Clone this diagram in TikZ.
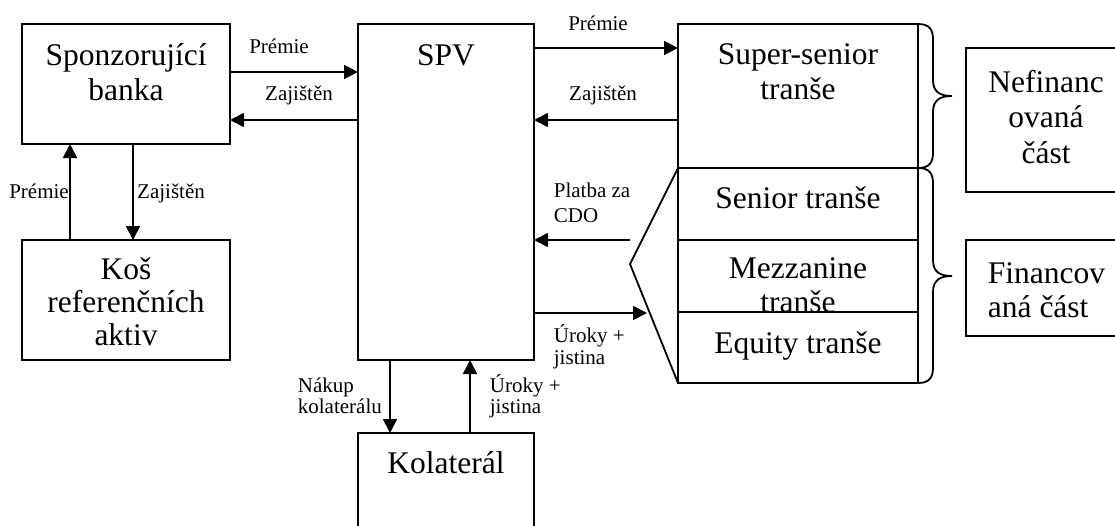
\documentclass[tikz,border=0pt]{standalone}
\usepackage{fontspec}
\setmainfont{Liberation Serif}
\usetikzlibrary{arrows.meta,calc}

% stacked lines whose baseline is the first line's baseline
\newcommand\cstack[1]{\vtop{\lineskiplimit=-50pt\halign{\hfil##\hfil\cr#1\crcr}}}
\newcommand\lstack[1]{\vtop{\lineskiplimit=-50pt\halign{##\hfil\cr#1\crcr}}}

% curly brace on the right of the tranche stack: top y, bottom y, tip y
\newcommand\drawbrace[3]{%
  \draw (918,#1) .. controls (930,#1) and (933,{#1+6}) .. (933,{#1+16})
        -- (933,{#3-16}) .. controls (933,{#3-4}) and (940,#3) .. (952,#3)
        .. controls (940,#3) and (933,{#3+4}) .. (933,{#3+16})
        -- (933,{#2-16}) .. controls (933,{#2-6}) and (930,#2) .. (918,#2);}

\begin{document}
\begin{tikzpicture}[x=1pt,y=-1pt,
  line width=1.8pt,
  box/.style={draw,rectangle,inner sep=0pt,outer sep=0pt},
  big/.style={inner sep=0pt,font=\fontsize{31.5}{35}\selectfont},
  small/.style={inner sep=0pt,font=\fontsize{21}{23}\selectfont},
  arr/.style={-{Triangle[length=14pt,width=14pt]}}]
\useasboundingbox (0,0) rectangle (1115,525);
\clip (0,0) rectangle (1115,525);

% boxes
\node[box,minimum width=208pt,minimum height=120pt] (spon) at (126,84) {};
\node[box,minimum width=208pt,minimum height=120pt] (kos) at (126,300) {};
\node[box,minimum width=176pt,minimum height=336pt] (spv) at (446,192) {};
\node[box,minimum width=176pt,minimum height=127pt] (kol) at (446,496.5) {};
\node[box,minimum width=240pt,minimum height=144pt] (ss) at (798,96) {};
\node[box,minimum width=240pt,minimum height=72pt] (sen) at (798,204) {};
\node[box,minimum width=240pt,minimum height=72pt] (mez) at (798,276) {};
\node[box,minimum width=240pt,minimum height=71pt] (eq) at (798,347.5) {};
\node[box,minimum width=164pt,minimum height=144pt] (nef) at (1048,120) {};
\node[box,minimum width=164pt,minimum height=96pt] (fin) at (1048,288) {};

% box texts
\node[big,anchor=base] (tspon) at (126,65) {\cstack{Sponzorující\cr banka}};
\node[big,anchor=base,font=\fontsize{31.5}{33}\selectfont] (tkos) at (126,279) {\cstack{Koš\cr referenčních\cr aktiv}};
\node[big,anchor=base] (tspv) at (446,65) {SPV};
\node[big,anchor=base] (tkol) at (446,473) {Kolaterál};
\node[big,anchor=base,font=\fontsize{31.5}{35}\selectfont] (tss) at (798,64) {\cstack{Super-senior\cr tranše}};
\node[big,anchor=base] (tsen) at (798,208) {Senior tranše};
\node[big,anchor=base,font=\fontsize{31.5}{34}\selectfont] (tmez) at (798,278) {\cstack{Mezzanine\cr tranše}};
\node[big,anchor=base] (teq) at (798,353) {Equity tranše};
\node[big,anchor=base,font=\fontsize{31.5}{35.5}\selectfont] (tnef) at (1046,92) {\cstack{Nefinanc\cr ovaná\cr část}};
\node[big,anchor=base west,font=\fontsize{31.5}{34}\selectfont] (tfin) at (987,283) {\lstack{Financov\cr aná část}};

% tranche fan
\coordinate (apex) at (630,264);
\draw (sen.north west) -- (apex) -- (eq.south west);

% braces
\drawbrace{24}{168}{96}
\drawbrace{168}{383}{276}

% flows between bank and SPV
\draw[arr] (spon.east |- 0,72) -- (spv.west |- 0,72);
\draw[arr] (spv.west |- 0,120) -- (spon.east |- 0,120);
\node[small,anchor=base] (lp1) at (279,53) {Prémie};
\node[small,anchor=base] (lz1) at (299,100) {Zajištěn};

% flows between bank and reference basket
\draw[arr] (kos.north -| 70,0) -- (spon.south -| 70,0);
\draw[arr] (spon.south -| 133,0) -- (kos.north -| 133,0);
\node[small,anchor=base] (lp2) at (39,198) {Prémie};
\node[small,anchor=base] (lz2) at (171,198) {Zajištěn};

% flows between SPV and super-senior tranche
\draw[arr] (spv.east |- 0,48) -- (ss.west |- 0,48);
\draw[arr] (ss.west |- 0,120) -- (spv.east |- 0,120);
\node[small,anchor=base] (lp3) at (598,30) {Prémie};
\node[small,anchor=base] (lz3) at (603,100) {Zajištěn};

% flows between SPV and funded tranches
\coordinate (cdo) at (630,240);
\coordinate (ur) at (647,313);
\draw[arr] (cdo) -- (spv.east |- cdo);
\draw[arr] (spv.east |- ur) -- (ur);
\node[small,anchor=base west,font=\fontsize{21}{25}\selectfont] (lcdo) at (553,197) {\lstack{Platba za\cr CDO}};
\node[small,anchor=base west,font=\fontsize{21}{22}\selectfont] (lur1) at (553,342) {\lstack{Úroky +\cr jistina}};

% flows between SPV and collateral
\draw[arr] (spv.south -| 390,0) -- (kol.north -| 390,0);
\draw[arr] (kol.north -| 470,0) -- (spv.south -| 470,0);
\node[small,anchor=base west,font=\fontsize{21}{21}\selectfont] (lnak) at (297,392) {\lstack{Nákup\cr kolaterálu}};
\node[small,anchor=base west,font=\fontsize{21}{21}\selectfont] (lur2) at (489,392) {\lstack{Úroky +\cr jistina}};
\end{tikzpicture}
\end{document}
